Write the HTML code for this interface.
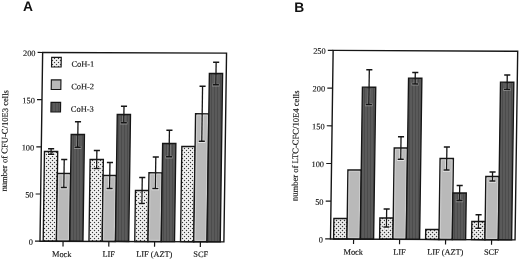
<!DOCTYPE html>
<html><head><meta charset="utf-8"><style>
html,body{margin:0;padding:0;background:#fff;width:520px;height:260px;overflow:hidden}
svg{display:block;text-rendering:geometricPrecision;will-change:transform}
text{font-family:"Liberation Serif",serif;fill:#141414;stroke:#141414;stroke-width:0.15px}
.hd{font-family:"Liberation Sans",sans-serif;font-weight:bold;fill:#111;stroke:none}
</style></head><body>
<svg width="520" height="260" viewBox="0 0 520 260">
<defs><pattern id="dotsA" patternUnits="userSpaceOnUse" width="4" height="4" patternTransform="matrix(0.99995 -0.00350 0.01400 0.99995 -3.37446 0.46681)"><rect width="4" height="4" fill="#f3f3f3"/><rect x="0" y="0" width="1" height="1" fill="#383838"/><rect x="2" y="2" width="1" height="1" fill="#383838"/><path d="M1 0h1v1h-1zM3 0h1v1h-1zM0 1h1v1h-1zM0 3h1v1h-1zM1 2h1v1h-1zM3 2h1v1h-1zM2 1h1v1h-1zM2 3h1v1h-1z" fill="#dfdfdf"/></pattern><pattern id="dkA" patternUnits="userSpaceOnUse" width="3" height="4" patternTransform="matrix(0.99995 -0.00350 0.01400 0.99995 -3.37446 0.46681)"><rect width="3" height="4" fill="#5a5a5a"/><rect x="1" width="1" height="4" fill="#4c4c4c"/></pattern><pattern id="dotsB" patternUnits="userSpaceOnUse" width="4" height="4" patternTransform="matrix(0.99993 -0.00500 0.01400 0.99993 -3.32183 2.12661)"><rect width="4" height="4" fill="#f0f0f0"/><rect x="0" y="0" width="1" height="1" fill="#383838"/><rect x="2" y="2" width="1" height="1" fill="#383838"/><path d="M1 0h1v1h-1zM3 0h1v1h-1zM0 1h1v1h-1zM0 3h1v1h-1zM1 2h1v1h-1zM3 2h1v1h-1zM2 1h1v1h-1zM2 3h1v1h-1z" fill="#d4d4d4"/></pattern><pattern id="dkB" patternUnits="userSpaceOnUse" width="3" height="4" patternTransform="matrix(0.99993 -0.00500 0.01400 0.99993 -3.32183 2.12661)"><rect width="3" height="4" fill="#5a5a5a"/><rect x="1" width="1" height="4" fill="#4c4c4c"/></pattern></defs>
<rect width="520" height="260" fill="#fff"/>
<text class="hd" x="22.9" y="10.9" font-size="13.8">A</text>
<text class="hd" x="294.3" y="12.3" font-size="13.8">B</text>
<g transform="matrix(1.00000 0.00350 -0.01400 1.00000 3.38100 -0.45500)">
<rect x="43.2" y="151.78" width="13.25" height="89.72" fill="url(#dotsA)" stroke="#161616" stroke-width="1.35"/>
<rect x="56.45" y="173.73" width="13.25" height="67.77" fill="#b9b9b9" stroke="#161616" stroke-width="1.35"/>
<rect x="57.8" y="175.08" width="10.55" height="65.07" fill="none" stroke="#d4d4d4" stroke-width="0.7"/>
<rect x="69.7" y="134.69" width="13.25" height="106.81" fill="url(#dkA)" stroke="#161616" stroke-width="1.35"/>
<path d="M49.83 152.98V154.48M46.18 154.78H53.48" stroke="#ffffff" stroke-width="2.8" fill="none"/>
<path d="M49.83 149.08V154.48" stroke="#161616" stroke-width="1.3" fill="none"/>
<path d="M46.78 149.08H52.88M46.78 154.48H52.88" stroke="#161616" stroke-width="1.45" fill="none"/>
<path d="M63.08 174.93V187.73M59.43 188.03H66.73" stroke="#e4e4e4" stroke-width="2.8" fill="none"/>
<path d="M63.08 159.73V187.73" stroke="#161616" stroke-width="1.3" fill="none"/>
<path d="M60.03 159.73H66.13M60.03 187.73H66.13" stroke="#161616" stroke-width="1.45" fill="none"/>
<path d="M76.33 135.89V147.39M72.68 147.69H79.98" stroke="#8c8c8c" stroke-width="2.8" fill="none"/>
<path d="M76.33 121.99V147.39" stroke="#161616" stroke-width="1.3" fill="none"/>
<path d="M73.28 121.99H79.38M73.28 147.39H79.38" stroke="#161616" stroke-width="1.45" fill="none"/>
<path d="M63.08 241.5V246.7" stroke="#161616" stroke-width="1.2"/>
<rect x="88.97" y="159.62" width="13.25" height="81.88" fill="url(#dotsA)" stroke="#161616" stroke-width="1.35"/>
<rect x="102.22" y="175.57" width="13.25" height="65.93" fill="#b9b9b9" stroke="#161616" stroke-width="1.35"/>
<rect x="103.57" y="176.92" width="10.55" height="63.23" fill="none" stroke="#d4d4d4" stroke-width="0.7"/>
<rect x="115.47" y="114.53" width="13.25" height="126.97" fill="url(#dkA)" stroke="#161616" stroke-width="1.35"/>
<path d="M95.6 160.82V168.62M91.95 168.92H99.25" stroke="#ffffff" stroke-width="2.8" fill="none"/>
<path d="M95.6 150.62V168.62" stroke="#161616" stroke-width="1.3" fill="none"/>
<path d="M92.55 150.62H98.65M92.55 168.62H98.65" stroke="#161616" stroke-width="1.45" fill="none"/>
<path d="M108.85 176.77V188.57M105.2 188.87H112.5" stroke="#e4e4e4" stroke-width="2.8" fill="none"/>
<path d="M108.85 162.57V188.57" stroke="#161616" stroke-width="1.3" fill="none"/>
<path d="M105.8 162.57H111.9M105.8 188.57H111.9" stroke="#161616" stroke-width="1.45" fill="none"/>
<path d="M122.1 115.73V122.83M118.45 123.13H125.75" stroke="#8c8c8c" stroke-width="2.8" fill="none"/>
<path d="M122.1 106.23V122.83" stroke="#161616" stroke-width="1.3" fill="none"/>
<path d="M119.05 106.23H125.15M119.05 122.83H125.15" stroke="#161616" stroke-width="1.45" fill="none"/>
<path d="M108.85 241.5V246.7" stroke="#161616" stroke-width="1.2"/>
<rect x="134.75" y="190.46" width="13.25" height="51.04" fill="url(#dotsA)" stroke="#161616" stroke-width="1.35"/>
<rect x="148" y="172.71" width="13.25" height="68.79" fill="#b9b9b9" stroke="#161616" stroke-width="1.35"/>
<rect x="149.34" y="174.06" width="10.55" height="66.09" fill="none" stroke="#d4d4d4" stroke-width="0.7"/>
<rect x="161.25" y="143.37" width="13.25" height="98.13" fill="url(#dkA)" stroke="#161616" stroke-width="1.35"/>
<path d="M141.37 191.66V203.46M137.72 203.76H145.02" stroke="#ffffff" stroke-width="2.8" fill="none"/>
<path d="M141.37 177.46V203.46" stroke="#161616" stroke-width="1.3" fill="none"/>
<path d="M138.32 177.46H144.42M138.32 203.46H144.42" stroke="#161616" stroke-width="1.45" fill="none"/>
<path d="M154.62 173.91V188.51M150.97 188.81H158.27" stroke="#e4e4e4" stroke-width="2.8" fill="none"/>
<path d="M154.62 156.91V188.51" stroke="#161616" stroke-width="1.3" fill="none"/>
<path d="M151.57 156.91H157.67M151.57 188.51H157.67" stroke="#161616" stroke-width="1.45" fill="none"/>
<path d="M167.87 144.57V156.67M164.22 156.97H171.52" stroke="#8c8c8c" stroke-width="2.8" fill="none"/>
<path d="M167.87 130.07V156.67" stroke="#161616" stroke-width="1.3" fill="none"/>
<path d="M164.82 130.07H170.92M164.82 156.67H170.92" stroke="#161616" stroke-width="1.45" fill="none"/>
<path d="M154.62 241.5V246.7" stroke="#161616" stroke-width="1.2"/>
<rect x="180.51" y="146.3" width="13.25" height="95.2" fill="url(#dotsA)" stroke="#161616" stroke-width="1.35"/>
<rect x="193.76" y="113.55" width="13.25" height="127.95" fill="#b9b9b9" stroke="#161616" stroke-width="1.35"/>
<rect x="195.11" y="114.9" width="10.55" height="125.25" fill="none" stroke="#d4d4d4" stroke-width="0.7"/>
<rect x="207.01" y="73.21" width="13.25" height="168.29" fill="url(#dkA)" stroke="#161616" stroke-width="1.35"/>
<path d="M200.39 114.75V141.05M196.74 141.35H204.04" stroke="#e4e4e4" stroke-width="2.8" fill="none"/>
<path d="M200.39 86.05V141.05" stroke="#161616" stroke-width="1.3" fill="none"/>
<path d="M197.34 86.05H203.44M197.34 141.05H203.44" stroke="#161616" stroke-width="1.45" fill="none"/>
<path d="M213.64 74.41V84.51M209.99 84.81H217.29" stroke="#8c8c8c" stroke-width="2.8" fill="none"/>
<path d="M213.64 61.91V84.51" stroke="#161616" stroke-width="1.3" fill="none"/>
<path d="M210.59 61.91H216.69M210.59 84.51H216.69" stroke="#161616" stroke-width="1.45" fill="none"/>
<path d="M200.39 241.5V246.7" stroke="#161616" stroke-width="1.2"/>
<text x="61.92" y="257.14" text-anchor="middle" font-size="8.3">Mock</text>
<text x="108.87" y="256.97" text-anchor="middle" font-size="8.3">LIF</text>
<text x="154.46" y="256.81" text-anchor="middle" font-size="8.3">LIF (AZT)</text>
<text x="200.91" y="256.65" text-anchor="middle" font-size="8.3">SCF</text>
<path d="M40 52.8H223.9V241.5H40Z" fill="none" stroke="#161616" stroke-width="1.4"/>
<path d="M35 241.5H40" stroke="#161616" stroke-width="1.2"/>
<text x="32.9" y="245.1" text-anchor="end" font-size="8.3">0</text>
<path d="M35 194.32H40" stroke="#161616" stroke-width="1.2"/>
<text x="32.9" y="197.92" text-anchor="end" font-size="8.3">50</text>
<path d="M35 147.15H40" stroke="#161616" stroke-width="1.2"/>
<text x="32.9" y="150.75" text-anchor="end" font-size="8.3">100</text>
<path d="M35 99.97H40" stroke="#161616" stroke-width="1.2"/>
<text x="32.9" y="103.57" text-anchor="end" font-size="8.3">150</text>
<path d="M35 52.8H40" stroke="#161616" stroke-width="1.2"/>
<text x="32.9" y="56.4" text-anchor="end" font-size="8.3">200</text>
<text transform="translate(6.1 141.23) rotate(-90)" text-anchor="middle" font-size="8.6">number of CFU-C/10E3 cells</text>
<rect x="49.09" y="57.67" width="9.6" height="9.6" fill="url(#dotsA)" stroke="#161616" stroke-width="1.15"/>
<text x="69.06" y="67.01" font-size="8.4">CoH-1</text>
<rect x="49.09" y="80.17" width="9.6" height="9.6" fill="#b9b9b9" stroke="#161616" stroke-width="1.15"/>
<text x="69.06" y="89.51" font-size="8.4">CoH-2</text>
<rect x="49.09" y="102.67" width="9.6" height="9.6" fill="url(#dkA)" stroke="#161616" stroke-width="1.15"/>
<text x="69.06" y="112.01" font-size="8.4">CoH-3</text>
</g>
<g transform="matrix(1.00000 0.00500 -0.01400 1.00000 3.35160 -2.11000)">
<rect x="333.58" y="218.91" width="13.35" height="20.49" fill="url(#dotsB)" stroke="#161616" stroke-width="1.35"/>
<rect x="346.93" y="170.34" width="13.35" height="69.06" fill="#b9b9b9" stroke="#161616" stroke-width="1.35"/>
<rect x="348.28" y="171.69" width="10.65" height="66.36" fill="none" stroke="#d4d4d4" stroke-width="0.7"/>
<rect x="360.28" y="87.48" width="13.35" height="151.92" fill="url(#dkB)" stroke="#161616" stroke-width="1.35"/>
<path d="M366.95 88.68V104.87M363.3 105.17H370.6" stroke="#8c8c8c" stroke-width="2.8" fill="none"/>
<path d="M366.95 70.08V104.87" stroke="#161616" stroke-width="1.3" fill="none"/>
<path d="M363.9 70.08H370M363.9 104.87H370" stroke="#161616" stroke-width="1.45" fill="none"/>
<path d="M353.6 239.4V244.4" stroke="#161616" stroke-width="1.2"/>
<rect x="379.58" y="218.18" width="13.35" height="21.22" fill="url(#dotsB)" stroke="#161616" stroke-width="1.35"/>
<rect x="392.93" y="148.11" width="13.35" height="91.29" fill="#b9b9b9" stroke="#161616" stroke-width="1.35"/>
<rect x="394.28" y="149.46" width="10.65" height="88.59" fill="none" stroke="#d4d4d4" stroke-width="0.7"/>
<rect x="406.28" y="78.25" width="13.35" height="161.15" fill="url(#dkB)" stroke="#161616" stroke-width="1.35"/>
<path d="M386.25 219.38V227.18M382.6 227.48H389.9" stroke="#ffffff" stroke-width="2.8" fill="none"/>
<path d="M386.25 209.18V227.18" stroke="#161616" stroke-width="1.3" fill="none"/>
<path d="M383.2 209.18H389.3M383.2 227.18H389.3" stroke="#161616" stroke-width="1.45" fill="none"/>
<path d="M399.6 149.31V159.31M395.95 159.61H403.25" stroke="#e4e4e4" stroke-width="2.8" fill="none"/>
<path d="M399.6 136.91V159.31" stroke="#161616" stroke-width="1.3" fill="none"/>
<path d="M396.55 136.91H402.65M396.55 159.31H402.65" stroke="#161616" stroke-width="1.45" fill="none"/>
<path d="M412.95 79.45V83.94M409.3 84.24H416.6" stroke="#8c8c8c" stroke-width="2.8" fill="none"/>
<path d="M412.95 72.55V83.94" stroke="#161616" stroke-width="1.3" fill="none"/>
<path d="M409.9 72.55H416M409.9 83.94H416" stroke="#161616" stroke-width="1.45" fill="none"/>
<path d="M399.6 239.4V244.4" stroke="#161616" stroke-width="1.2"/>
<rect x="425.58" y="229.45" width="13.35" height="9.95" fill="url(#dotsB)" stroke="#161616" stroke-width="1.35"/>
<rect x="438.93" y="158.38" width="13.35" height="81.02" fill="#b9b9b9" stroke="#161616" stroke-width="1.35"/>
<rect x="440.28" y="159.73" width="10.65" height="78.32" fill="none" stroke="#d4d4d4" stroke-width="0.7"/>
<rect x="452.28" y="192.82" width="13.35" height="46.58" fill="url(#dkB)" stroke="#161616" stroke-width="1.35"/>
<path d="M445.6 159.58V169.88M441.95 170.18H449.25" stroke="#e4e4e4" stroke-width="2.8" fill="none"/>
<path d="M445.6 146.88V169.88" stroke="#161616" stroke-width="1.3" fill="none"/>
<path d="M442.55 146.88H448.65M442.55 169.88H448.65" stroke="#161616" stroke-width="1.45" fill="none"/>
<path d="M458.95 194.02V200.31M455.3 200.61H462.6" stroke="#8c8c8c" stroke-width="2.8" fill="none"/>
<path d="M458.95 185.32V200.31" stroke="#161616" stroke-width="1.3" fill="none"/>
<path d="M455.9 185.32H462M455.9 200.31H462" stroke="#161616" stroke-width="1.45" fill="none"/>
<path d="M445.6 239.4V244.4" stroke="#161616" stroke-width="1.2"/>
<rect x="471.58" y="221.22" width="13.35" height="18.18" fill="url(#dotsB)" stroke="#161616" stroke-width="1.35"/>
<rect x="484.93" y="176.15" width="13.35" height="63.25" fill="#b9b9b9" stroke="#161616" stroke-width="1.35"/>
<rect x="486.28" y="177.5" width="10.65" height="60.55" fill="none" stroke="#d4d4d4" stroke-width="0.7"/>
<rect x="498.28" y="81.79" width="13.35" height="157.61" fill="url(#dkB)" stroke="#161616" stroke-width="1.35"/>
<path d="M478.25 222.42V227.92M474.6 228.22H481.9" stroke="#ffffff" stroke-width="2.8" fill="none"/>
<path d="M478.25 214.52V227.92" stroke="#161616" stroke-width="1.3" fill="none"/>
<path d="M475.2 214.52H481.3M475.2 227.92H481.3" stroke="#161616" stroke-width="1.45" fill="none"/>
<path d="M491.6 177.35V180.65M487.95 180.95H495.25" stroke="#e4e4e4" stroke-width="2.8" fill="none"/>
<path d="M491.6 171.65V180.65" stroke="#161616" stroke-width="1.3" fill="none"/>
<path d="M488.55 171.65H494.65M488.55 180.65H494.65" stroke="#161616" stroke-width="1.45" fill="none"/>
<path d="M504.95 82.99V88.98M501.3 89.28H508.6" stroke="#8c8c8c" stroke-width="2.8" fill="none"/>
<path d="M504.95 74.59V88.98" stroke="#161616" stroke-width="1.3" fill="none"/>
<path d="M501.9 74.59H508M501.9 88.98H508" stroke="#161616" stroke-width="1.45" fill="none"/>
<path d="M491.6 239.4V244.4" stroke="#161616" stroke-width="1.2"/>
<text x="353.42" y="255.04" text-anchor="middle" font-size="8.3">Mock</text>
<text x="399.72" y="254.81" text-anchor="middle" font-size="8.3">LIF</text>
<text x="445.51" y="254.58" text-anchor="middle" font-size="8.3">LIF (AZT)</text>
<text x="491.51" y="254.35" text-anchor="middle" font-size="8.3">SCF</text>
<path d="M330.5 50.8H515.05V239.4H330.5Z" fill="none" stroke="#161616" stroke-width="1.4"/>
<path d="M325.2 239.4H330.5" stroke="#161616" stroke-width="1.2"/>
<text x="323" y="243" text-anchor="end" font-size="8.3">0</text>
<path d="M325.2 201.68H330.5" stroke="#161616" stroke-width="1.2"/>
<text x="323" y="205.28" text-anchor="end" font-size="8.3">50</text>
<path d="M325.2 163.96H330.5" stroke="#161616" stroke-width="1.2"/>
<text x="323" y="167.56" text-anchor="end" font-size="8.3">100</text>
<path d="M325.2 126.24H330.5" stroke="#161616" stroke-width="1.2"/>
<text x="323" y="129.84" text-anchor="end" font-size="8.3">150</text>
<path d="M325.2 88.52H330.5" stroke="#161616" stroke-width="1.2"/>
<text x="323" y="92.12" text-anchor="end" font-size="8.3">200</text>
<path d="M325.2 50.8H330.5" stroke="#161616" stroke-width="1.2"/>
<text x="323" y="54.4" text-anchor="end" font-size="8.3">250</text>
<text transform="translate(297 146.43) rotate(-90)" text-anchor="middle" font-size="8.6">number of LTC-CFC/10E4 cells</text>

</g>
</svg>
</body></html>
